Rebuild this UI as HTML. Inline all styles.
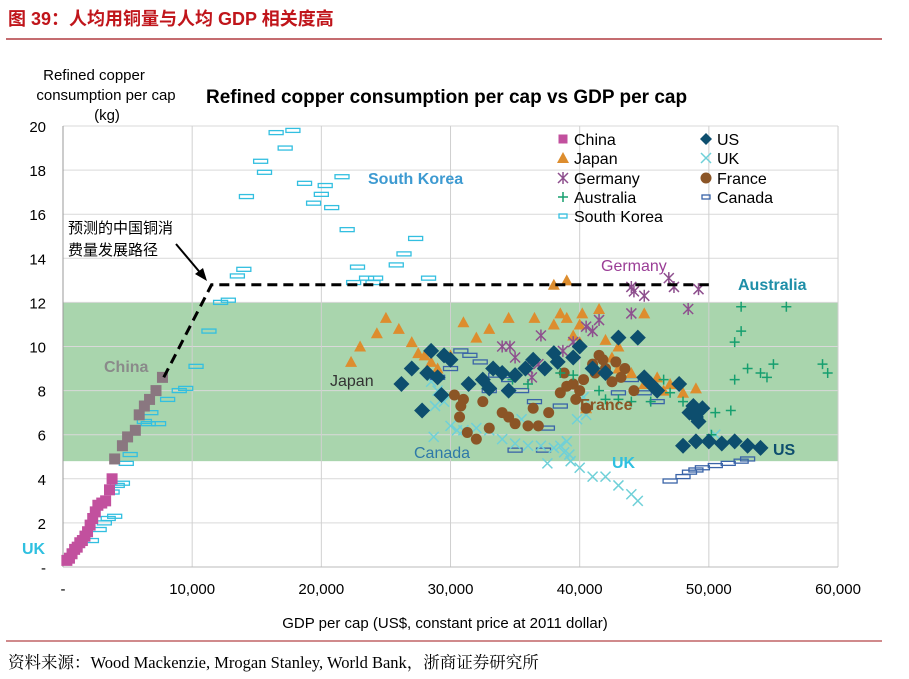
<!DOCTYPE html>
<html><head><meta charset="utf-8"><style>
body{margin:0;background:#fff;width:909px;height:679px;overflow:hidden;font-family:"Liberation Sans","Noto Sans CJK SC",sans-serif}
svg{position:absolute;left:0;top:0}
</style></head><body>
<svg id="c" width="909" height="679"></svg>
<script>
const chinaLow=[[0.3,0.3],[0.5,0.4],[0.7,0.6],[0.9,0.8],[1.1,0.9],[1.3,1.1],[1.5,1.2],[1.7,1.4],[1.9,1.6],[2.1,1.9],[2.3,2.2],[2.5,2.5],[2.7,2.8],[3.0,2.9],[3.3,3.0],[3.6,3.5],[3.8,4.0]];
const chinaHigh=[[4.0,4.9],[4.6,5.5],[5.0,5.9],[5.6,6.2],[5.9,6.9],[6.3,7.3],[6.7,7.6],[7.2,8.0],[7.7,8.6]];
const korea=[[2.2,1.2],[2.8,1.7],[3.2,2.0],[3.5,2.2],[4,2.3],[3.8,3.4],[4.2,3.7],[4.6,3.8],[4.9,4.7],[5.2,5.1],[6.6,6.5],[7.4,6.5],[6.3,6.6],[6.8,7.0],[8.1,7.6],[9.0,8.0],[9.5,8.1],[10.3,9.1],[11.3,10.7],[12.2,12.0],[12.8,12.1],[13.5,13.2],[14,13.5],[14.2,16.8],[15.3,18.4],[15.6,17.9],[16.5,19.7],[17.2,19.0],[17.8,19.8],[18.7,17.4],[19.4,16.5],[20,16.9],[20.3,17.3],[20.8,16.3],[21.6,17.7],[22,15.3],[22.8,13.6],[23.5,13.1],[24.2,13.1],[25.8,13.7],[26.4,14.2],[27.3,14.9],[28.3,13.1],[22.5,12.9],[24,12.9]];
const japan=[[22.3,9.3],[23,10],[24.3,10.6],[25,11.3],[26,10.8],[27,10.2],[27.5,9.7],[28,9.6],[28.5,9.3],[29,9.0],[30,9.6],[31,11.1],[32,10.4],[33,10.8],[34.5,11.3],[36.5,11.3],[38,11],[38.5,11.5],[39,11.3],[40,11.0],[40.2,11.5],[41.5,11.7],[39.5,10.5],[40,10.2],[42,10.3],[42.5,9.5],[43,9.0],[44,8.8],[45,8.3],[46,8.6],[47,8.3],[46.5,8.0],[48,7.9],[49,8.1],[40.5,7.2],[38,12.8],[39,13.0],[45,11.5],[43,10]];
const germany=[[34,10],[34.6,10],[35,9.5],[36,9],[36.3,8.6],[36.8,9.2],[37,10.5],[38.7,9.8],[39.5,10.2],[40.5,10.9],[41,10.7],[41.5,11.2],[44,11.5],[44,12.7],[44.2,12.5],[45,12.3],[46.9,13.1],[47.3,12.7],[48.4,11.7],[49.2,12.6]];
const france=[[30.7,6.8],[31.3,6.1],[32,5.8],[33,6.3],[32.5,7.5],[34,7.0],[34.5,6.8],[35,6.5],[36,6.4],[36.8,6.4],[37.6,7.0],[38.5,7.9],[39,8.2],[39.5,8.3],[40,8.0],[40.3,8.5],[41,9.2],[41.5,9.6],[41.8,9.4],[42,9.0],[42.8,9.3],[43.5,9.0],[43.2,8.6],[40.5,7.2],[39.7,7.6],[31,7.6],[30.3,7.8],[30.8,7.3],[36.4,7.2],[38.8,8.8],[44.2,8.0],[45,8.6],[41.2,8.8],[42.5,8.4]];
const us=[[26.2,8.3],[27,9.0],[27.8,7.1],[28.2,8.8],[28.5,9.8],[29,8.6],[29.3,7.8],[29.5,9.6],[31.4,8.3],[32.5,8.5],[33,8.1],[33.3,9.0],[34,8.8],[34.5,8.0],[35,8.7],[35.8,9.0],[36.4,9.4],[37.3,9.0],[38,9.7],[38.3,9.3],[39.5,9.5],[40,10],[42,8.8],[43,10.4],[44.5,10.4],[45,8.6],[45.5,8.3],[46,8.0],[47.7,8.3],[48.5,7.0],[48.8,7.3],[49,6.8],[49.2,6.6],[48,5.5],[49,5.7],[50,5.7],[51,5.6],[52,5.7],[53,5.5],[54,5.4],[49.5,7.2],[41,9],[30,9.4]];
const uk=[[28.5,8.4],[29,8],[28.8,7.3],[29.5,7.5],[28.7,5.9],[30,6.4],[30.5,6.2],[31,6.2],[32,6.3],[33,6.2],[34,5.8],[35,5.6],[36,5.5],[37,5.5],[37.5,4.7],[38,5.4],[38.5,5.5],[39,5.7],[39.2,5.1],[39.3,4.8],[40,4.5],[41,4.1],[42,4.1],[43,3.7],[44,3.3],[44.5,3.0],[39.8,6.7],[40.5,6.9],[38.8,5.2],[35.5,6.7],[40.3,7.7],[50.5,6.0]];
const canada=[[47,3.9],[48,4.1],[48.5,4.3],[49,4.4],[49.5,4.5],[50.5,4.6],[51.5,4.7],[52.5,4.8],[53,4.9],[29,8.6],[30,9],[30.8,9.8],[31.5,9.6],[32.3,9.3],[33.5,8.7],[33,8],[34.5,8.5],[35.5,8],[36.5,7.5],[37.5,6.3],[37.2,5.3],[35,5.3],[38.5,7.3],[43,7.9],[45,7.9],[46,7.5],[44,8.5]];
const australia=[[34.8,8.5],[36,8.3],[38.5,8.8],[39.5,8.7],[41.5,8.0],[42,7.6],[43,7.6],[44,7.5],[45.5,7.5],[46.5,8.5],[47,7.9],[48,7.5],[50.5,7.0],[52,8.5],[52,10.2],[52.5,10.7],[53,9.0],[55,9.2],[54,8.8],[54.5,8.6],[58.8,9.2],[59.2,8.8],[52.5,11.8],[56,11.8],[51.7,7.1],[50.2,6.0]];
const projection=[[7.8,8.6],[11.5,12.8],[50,12.8]];
const xTicks=[0,10,20,30,40,50,60];
const xTickLabels=["-","10,000","20,000","30,000","40,000","50,000","60,000"];
const yTicks=[0,2,4,6,8,10,12,14,16,18,20];
const yTickLabels=["-","2","4","6","8","10","12","14","16","18","20"];
const band=[4.8,12];

const S=document.getElementById('c'),NS='http://www.w3.org/2000/svg';
const X=v=>63+v*12.917,Y=v=>567-v*22.05;
function mk(t,a,txt){const e=document.createElementNS(NS,t);for(const k in a)e.setAttribute(k,a[k]);if(txt!=null)e.textContent=txt;S.appendChild(e);return e;}
let e;
e=mk('text',{x:8,y:25,'font-size':18,'font-weight':'bold',fill:'#c0151b'},'图 39：人均用铜量与人均 GDP 相关度高');

mk('line',{x1:6,y1:39,x2:882,y2:39,stroke:'#a0141a','stroke-width':1.2});
mk('line',{x1:6,y1:641,x2:882,y2:641,stroke:'#a0141a','stroke-width':1});
e=mk('text',{x:8,y:668,'font-size':16.5,fill:'#000','font-family':'"Liberation Serif","Noto Serif CJK SC",serif'},'资料来源：Wood Mackenzie, Mrogan Stanley, World Bank，浙商证券研究所');

e=mk('rect',{x:X(0),y:Y(band[1]),width:X(60)-X(0),height:Y(band[0])-Y(band[1]),fill:'#a9d5ad'});

yTicks.forEach((t,i)=>{mk('line',{x1:X(0),x2:X(60),y1:Y(t),y2:Y(t),stroke:'#d9d9d9','stroke-width':1});
 e=mk('text',{x:46,y:Y(t)+6,'font-size':15,'text-anchor':'end',fill:'#000'},yTickLabels[i]);
 });
xTicks.forEach((t,i)=>{mk('line',{x1:X(t),x2:X(t),y1:Y(20),y2:Y(0),stroke:'#d0d0d0','stroke-width':1});
 e=mk('text',{x:X(t),y:594,'font-size':15,'text-anchor':'middle',fill:'#000'},xTickLabels[i]);
 });
mk('line',{x1:X(0),x2:X(0),y1:Y(20),y2:Y(0),stroke:'#999'});
mk('line',{x1:X(0),x2:X(60),y1:Y(0),y2:Y(0),stroke:'#bbb'});
function marker(type,cx,cy,col){let g;
 if(type=='sq')g=mk('rect',{x:cx-5.5,y:cy-5.5,width:11,height:11,fill:col});
 else if(type=='hr')g=mk('rect',{x:cx-7,y:cy-2,width:14,height:4,fill:'none',stroke:col,'stroke-width':1.3});
 else if(type=='tri')g=mk('polygon',{points:`${cx},${cy-6} ${cx+6},${cy+5} ${cx-6},${cy+5}`,fill:col});
 else if(type=='dia')g=mk('polygon',{points:`${cx},${cy-8} ${cx+8},${cy} ${cx},${cy+8} ${cx-8},${cy}`,fill:col});
 else if(type=='cir')g=mk('circle',{cx,cy,r:5.5,fill:col});
 else if(type=='x')g=mk('path',{d:`M${cx-5} ${cy-5}L${cx+5} ${cy+5}M${cx+5} ${cy-5}L${cx-5} ${cy+5}`,stroke:col,'stroke-width':1.5});
 else if(type=='star')g=mk('path',{d:`M${cx-5} ${cy-5}L${cx+5} ${cy+5}M${cx+5} ${cy-5}L${cx-5} ${cy+5}M${cx} ${cy-6}L${cx} ${cy+6}`,stroke:col,'stroke-width':1.5});
 else if(type=='plus')g=mk('path',{d:`M${cx-5} ${cy}L${cx+5} ${cy}M${cx} ${cy-5}L${cx} ${cy+5}`,stroke:col,'stroke-width':1.5});
 return g;}
function series(arr,type,col,name){arr.forEach(p=>{const g=marker(type,X(p[0]),Y(p[1]),col);
 });}
series(korea,'hr','#33bfe0','south-korea');
series(canada,'hr','#3a64a8','canada');
series(uk,'x','#6fd0d8','uk');
series(japan,'tri','#dd8d2e','japan');
series(france,'cir','#8b5526','france');
series(germany,'star','#8e4f8e','germany');
series(australia,'plus','#169f6f','australia');
series(us,'dia','#0d4e6e','us');
series(chinaLow,'sq','#c2509e','china');
series(chinaHigh,'sq','#8a7780','china');
e=mk('polyline',{points:projection.map(p=>X(p[0])+','+Y(p[1])).join(' '),fill:'none',stroke:'#000','stroke-width':3,'stroke-dasharray':'10,6'});

mk('path',{d:'M176 244 L203 276',stroke:'#000','stroke-width':2});
mk('polygon',{points:'207,281 195,274 203,268',fill:'#000'});
e=mk('text',{x:68,y:233,'font-size':15,fill:'#000'},'预测的中国铜消');
e=mk('text',{x:68,y:255,'font-size':15,fill:'#000'},'费量发展路径');
const labels=[['South Korea',368,184,'#3d9ad1',1],['Germany',601,271,'#9a3d96',0],['Australia',738,290,'#1f8fa8',1],['Japan',330,386,'#333',0],['France',580,410,'#8b5526',1],['Canada',414,458,'#2e79a8',0],['UK',612,468,'#2fc0e0',1],['US',773,455,'#0d4e6e',1],['China',104,372,'#8a8a8a',1],['UK',22,554,'#2fc0e0',1]];
labels.forEach(l=>{e=mk('text',{x:l[1],y:l[2],'font-size':16,'font-weight':l[4]?'bold':'normal',fill:l[3]},l[0]);
 });
e=mk('text',{x:206,y:103,'font-size':19,'font-weight':'bold',fill:'#000'},'Refined copper consumption per cap vs GDP per cap');

[['Refined copper',94,80],['consumption per cap',106,100],['(kg)',107,120]].forEach(t=>{e=mk('text',{x:t[1],y:t[2],'font-size':15,'text-anchor':'middle',fill:'#000'},t[0]);
 });
e=mk('text',{x:445,y:628,'font-size':15,'text-anchor':'middle',fill:'#000'},'GDP per cap (US$, constant price at 2011 dollar)');

const leg=[['China','sq','#c2509e',563,139],['Japan','tri','#dd8d2e',563,158],['Germany','star','#8e4f8e',563,178],['Australia','plus','#169f6f',563,197],['South Korea','hr','#33bfe0',563,216],['US','dia','#0d4e6e',706,139],['UK','x','#6fd0d8',706,158],['France','cir','#8b5526',706,178],['Canada','hr','#3a64a8',706,197]];
leg.forEach(l=>{const g=marker(l[1],l[3],l[4],l[2]);
 if(l[1]=='hr'){g.setAttribute('width',8);g.setAttribute('x',l[3]-4);}
 if(l[1]=='dia'){g.setAttribute('points',`${l[3]},${l[4]-6} ${l[3]+6},${l[4]} ${l[3]},${l[4]+6} ${l[3]-6},${l[4]}`);}
 if(l[1]=='sq'){g.setAttribute('width',9);g.setAttribute('height',9);g.setAttribute('x',l[3]-4.5);g.setAttribute('y',l[4]-4.5);}
 
 e=mk('text',{x:l[3]+11,y:l[4]+6,'font-size':16,fill:'#000'},l[0]);
 });
</script>
</body></html>
